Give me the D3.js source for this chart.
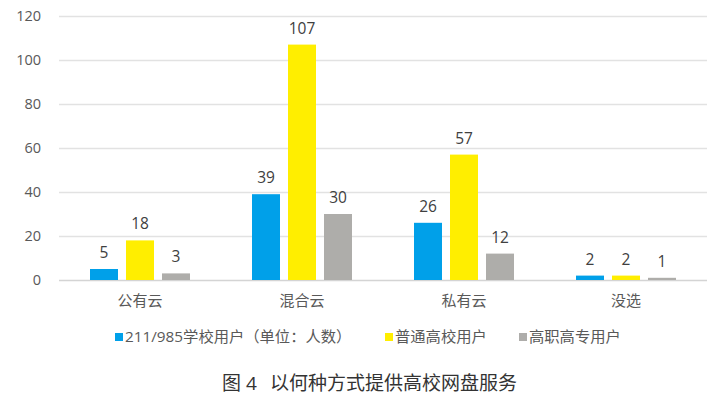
<!DOCTYPE html>
<html>
<head>
<meta charset="utf-8">
<script src="https://cdn.jsdelivr.net/npm/d3@7"></script>
<style>
  body { margin: 0; background: #fff; }
  text { font-family: "Open Sans", "Noto Sans CJK SC", sans-serif; }
</style>
</head>
<body>
<script>
const categories = ['公有云', '混合云', '私有云', '没选'];
const seriesNames = ['211/985学校用户（单位：人数）', '普通高校用户', '高职高专用户'];
const seriesColors = ['#00A0E9', '#FFEE00', '#AEADAA'];
const valuesTop = [5, 39, 26, 2];
const valuesNormal = [18, 107, 57, 2];
const valuesVocational = [3, 30, 12, 1];
const yTicks = [0, 20, 40, 60, 80, 100, 120];
const titleNum = '图 4';
const titleText = '以何种方式提供高校网盘服务';

const width = 718;
const height = 396;
const plotLeft = 59;
const plotRight = 707;
const plotTop = 16;
const plotBottom = 280;

const series = [valuesTop, valuesNormal, valuesVocational];

const svg = d3.select('body').append('svg').attr('width', width).attr('height', height);

const x0 = d3.scaleBand().domain(categories).range([plotLeft, plotRight]);
const x1 = d3.scaleBand().domain(d3.range(series.length)).range([31, 131]).paddingInner(8 / 36);
const y = d3.scaleLinear().domain([0, 120]).range([plotBottom, plotTop]);

// grid
svg.append('g')
  .selectAll('line')
  .data(yTicks)
  .enter()
  .append('line')
  .attr('x1', plotLeft)
  .attr('x2', plotRight)
  .attr('y1', d => Math.round(y(d)) + 0.5)
  .attr('y2', d => Math.round(y(d)) + 0.5)
  .attr('stroke', d => (d === 0 ? '#d4d4d4' : '#e2e2e2'))
  .attr('stroke-width', 1.3);

const yAxis = d3.axisLeft(y).tickValues(yTicks).tickSize(0).tickPadding(0);
svg.append('g')
  .attr('transform', 'translate(41,0)')
  .call(yAxis)
  .call(g => g.select('.domain').remove())
  .call(g => g.selectAll('text')
    .attr('fill', '#595959')
    .attr('font-size', 14.5)
    .attr('font-family', '"Open Sans", sans-serif'));

const xAxis = d3.axisBottom(x0).tickSize(0).tickPadding(0);
svg.append('g')
  .attr('transform', `translate(0,${plotBottom + 15})`)
  .call(xAxis)
  .call(g => g.select('.domain').remove())
  .call(g => g.selectAll('text')
    .attr('fill', '#595959')
    .attr('font-size', 15)
    .attr('font-family', '"Noto Sans CJK SC", sans-serif'));

// bars
const groups = svg.selectAll('.grp')
  .data(categories)
  .enter()
  .append('g')
  .attr('class', 'grp')
  .attr('transform', d => `translate(${x0(d)},0)`);

groups.each(function (cat, ci) {
  const g = d3.select(this);
  series.forEach((vals, si) => {
    const v = vals[ci];
    g.append('rect')
      .attr('x', x1(si))
      .attr('width', x1.bandwidth())
      .attr('y', y(v))
      .attr('height', y(0) - y(v))
      .attr('fill', seriesColors[si]);
    g.append('text')
      .attr('x', x1(si) + x1.bandwidth() / 2)
      .attr('y', y(v) - 11)
      .attr('text-anchor', 'middle')
      .attr('font-size', 15.5)
      .attr('font-weight', 500)
      .attr('fill', '#404040')
      .text(v);
  });
});

// legend
const legendX = [115, 385, 519];
const legend = svg.append('g').attr('transform', 'translate(0,337)');
seriesNames.forEach((name, i) => {
  legend.append('rect')
    .attr('x', legendX[i])
    .attr('y', -4)
    .attr('width', 8)
    .attr('height', 8)
    .attr('fill', seriesColors[i]);
  legend.append('text')
    .attr('x', legendX[i] + 10)
    .attr('y', 0)
    .attr('dy', '0.35em')
    .attr('font-size', 15.3)
    .attr('fill', '#595959')
    .attr('font-family', '"Noto Sans CJK SC", sans-serif')
    .text(name);
});

// title
const titleEl = svg.append('text')
  .attr('y', 383)
  .attr('dy', '0.35em')
  .attr('font-size', 19)
  .attr('fill', '#333')
  .attr('font-family', '"Noto Sans CJK SC", sans-serif');
titleEl.append('tspan').attr('x', 222).text(titleNum);
titleEl.append('tspan').attr('x', 270).text(titleText);
</script>
</body>
</html>
